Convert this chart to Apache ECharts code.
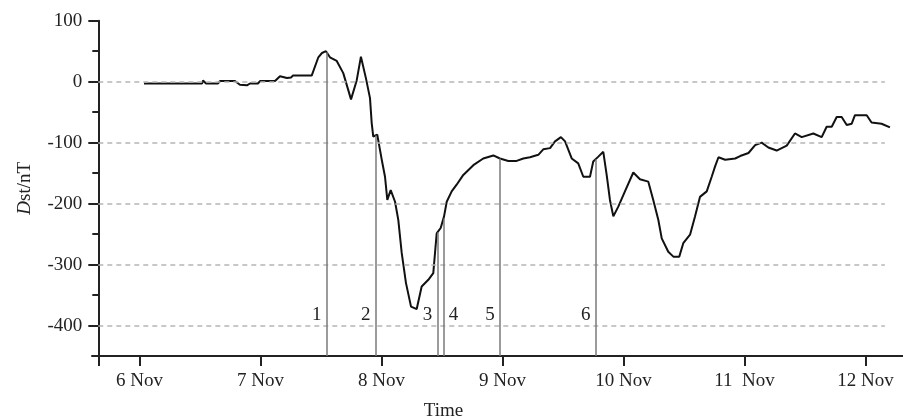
<!DOCTYPE html>
<html>
<head>
<meta charset="utf-8">
<script src="https://cdn.jsdelivr.net/npm/echarts@6/dist/echarts.min.js"></script>
<style>
  html, body { margin: 0; padding: 0; background: #fff; }
  #chart { width: 903px; height: 417px; }
</style>
</head>
<body>
<div id="chart"></div>
<script>
// Dst index during the storm; time is in days after 6 Nov 00:00 UT
const dstDays = [
  0.037, 0.517, 0.525, 0.55, 0.649, 0.665, 0.789, 0.83, 0.888, 0.913, 0.979, 0.996,
  1.12, 1.161, 1.219, 1.252, 1.269, 1.423, 1.478, 1.508, 1.541, 1.574, 1.63, 1.684,
  1.748, 1.795, 1.83, 1.872, 1.905, 1.919, 1.932, 1.965, 2.002, 2.029, 2.048, 2.076,
  2.112, 2.139, 2.167, 2.202, 2.244, 2.291, 2.332, 2.387, 2.428, 2.456, 2.489, 2.517,
  2.539, 2.58, 2.621, 2.676, 2.759, 2.841, 2.924, 2.979, 3.048, 3.117, 3.172, 3.227,
  3.296, 3.337, 3.393, 3.434, 3.483, 3.517, 3.572, 3.626, 3.668, 3.723, 3.75, 3.792,
  3.833, 3.861, 3.888, 3.916, 3.957, 4.012, 4.081, 4.136, 4.205, 4.246, 4.288, 4.316,
  4.37, 4.412, 4.461, 4.494, 4.55, 4.591, 4.632, 4.688, 4.729, 4.757, 4.785, 4.84,
  4.923, 4.964, 5.033, 5.088, 5.142, 5.197, 5.266, 5.349, 5.417, 5.473, 5.569, 5.638,
  5.679, 5.721, 5.762, 5.803, 5.845, 5.886, 5.913, 6.01, 6.05, 6.133, 6.202
];
const dstValues = [
  -3, -3, 2, -3, -3, 1, 1, -5, -6, -3, -3, 1,
  1, 9, 6, 7, 10, 10, 40, 47, 50, 40, 34, 14,
  -29, 2, 41, 5, -27, -68, -90, -87, -128, -156, -194, -178,
  -197, -227, -281, -330, -369, -373, -336, -325, -314, -249, -240, -221,
  -197, -180, -169, -153, -137, -126, -121, -126, -130, -130, -126, -124,
  -120, -111, -109, -98, -91, -98, -126, -134, -156, -156, -131, -123,
  -115, -153, -194, -221, -205, -180, -149, -160, -164, -194, -227, -257,
  -279, -287, -287, -265, -251, -221, -189, -180, -156, -139, -124, -128,
  -126, -122, -117, -104, -100, -108, -113, -105, -85, -91, -85, -91,
  -74, -74, -58, -58, -71, -69, -55, -55, -67, -69, -75
];

// Marked moments (days after 6 Nov 00:00 UT) and their labels
const eventDays = [1.547, 1.952, 2.463, 2.512, 2.979, 3.770];
const eventLabels = ['1', '2', '3', '4', '5', '6'];

// Axis ticks and labels
const dayTicks = [0, 1, 2, 3, 4, 5, 6];
const dayTickLabels = ['6 Nov', '7 Nov', '8 Nov', '9 Nov', '10 Nov', '11  Nov', '12 Nov'];
const dstTicks = [100, 0, -100, -200, -300, -400];
const dstMinorTicks = [50, -50, -150, -250, -350];
const dstGridLines = [0, -100, -200, -300, -400];

// the time axis starts a little left of the Dst axis, which sits at Y_AXIS_AT
const X_MIN = -0.3926, X_MAX = 6.31, Y_AXIS_AT = -0.3405;
const Y_MIN = -450, Y_MAX = 100;
const GRID_END = 6.16;
const EVENT_LABEL_Y = -382;
const FONT = '"Liberation Serif", "Times New Roman", serif';
const FONT_SIZE = 19;
const INK = '#222';

// linear interpolation of the Dst curve at a given time
function dstAt(t) {
  for (let i = 1; i < dstDays.length; i++) {
    if (t <= dstDays[i]) {
      const a = dstDays[i - 1], b = dstDays[i];
      const f = (t - a) / (b - a);
      return dstValues[i - 1] + f * (dstValues[i] - dstValues[i - 1]);
    }
  }
  return dstValues[dstValues.length - 1];
}

const chart = echarts.init(document.getElementById('chart'), null, { renderer: 'canvas' });

const gridMarks = dstGridLines.map(v => [
  { coord: [Y_AXIS_AT, v], lineStyle: { type: [5, 4], color: '#b5b5b5', width: 1.5 } },
  { coord: [GRID_END, v] }
]);
const eventMarks = eventDays.map(d => [
  { coord: [d, dstAt(d)], lineStyle: { type: 'solid', color: '#7a7a7a', width: 1.5 } },
  { coord: [d, Y_MIN] }
]);

const Y_OFFSET = -6.3;

chart.setOption({
  animation: false,
  backgroundColor: '#fff',
  grid: { left: 92, right: 0, top: 20.7, bottom: 61, containLabel: false, outerBoundsMode: 'none' },
  xAxis: {
    type: 'value',
    min: X_MIN,
    max: X_MAX,
    name: 'Time',
    nameLocation: 'middle',
    nameGap: 46,
    nameTextStyle: { fontFamily: FONT, fontSize: FONT_SIZE, color: INK, padding: [0, 108, 0, 0] },
    axisLine: { show: true, onZero: false, lineStyle: { color: INK, width: 2 } },
    axisTick: { show: true, customValues: [Y_AXIS_AT].concat(dayTicks), length: 10, inside: false,
                lineStyle: { color: INK, width: 2 } },
    axisLabel: {
      customValues: dayTicks,
      margin: 16,
      fontFamily: FONT, fontSize: FONT_SIZE, color: INK,
      formatter: v => dayTickLabels[dayTicks.indexOf(Math.round(v))] || ''
    },
    splitLine: { show: false }
  },
  yAxis: [
    {
      type: 'value',
      min: Y_MIN,
      max: Y_MAX,
      offset: Y_OFFSET,
      name: '{i|D}st/nT',
      nameLocation: 'middle',
      nameGap: 64,
      nameTextStyle: {
        fontFamily: FONT, fontSize: FONT_SIZE, color: INK,
        rich: { i: { fontFamily: FONT, fontSize: FONT_SIZE, fontStyle: 'italic', color: INK } }
      },
      axisLine: { show: true, onZero: false, lineStyle: { color: INK, width: 2 } },
      axisTick: { show: true, customValues: dstTicks, length: 10, lineStyle: { color: INK, width: 2 } },
      axisLabel: { customValues: dstTicks, margin: 16, fontFamily: FONT, fontSize: FONT_SIZE, color: INK },
      splitLine: { show: false }
    },
    {
      type: 'value',
      min: Y_MIN,
      max: Y_MAX,
      offset: Y_OFFSET,
      position: 'left',
      axisLine: { show: false, onZero: false },
      axisTick: { show: true, customValues: dstMinorTicks, length: 6, lineStyle: { color: INK, width: 2 } },
      axisLabel: { show: false },
      splitLine: { show: false }
    }
  ],
  series: [
    {
      name: 'events',
      type: 'scatter',
      z: 1,
      symbolSize: 0,
      silent: true,
      itemStyle: { opacity: 1 },
      data: eventDays.map((d, i) => ({
        value: [d, EVENT_LABEL_Y],
        label: {
          show: true,
          formatter: eventLabels[i],
          position: [i === 3 ? 10 : -10, 0],
          align: 'center',
          verticalAlign: 'middle',
          fontFamily: FONT, fontSize: FONT_SIZE, color: INK,
          opacity: 1,
          textBorderWidth: 0
        }
      })),
      markLine: {
        silent: true,
        symbol: 'none',
        label: { show: false },
        emphasis: { disabled: true },
        data: gridMarks.concat(eventMarks)
      }
    },
    {
      name: 'Dst',
      type: 'line',
      z: 3,
      showSymbol: false,
      symbol: 'none',
      lineStyle: { color: '#111', width: 2 },
      data: dstDays.map((d, i) => [d, dstValues[i]])
    }
  ]
});
</script>
</body>
</html>
